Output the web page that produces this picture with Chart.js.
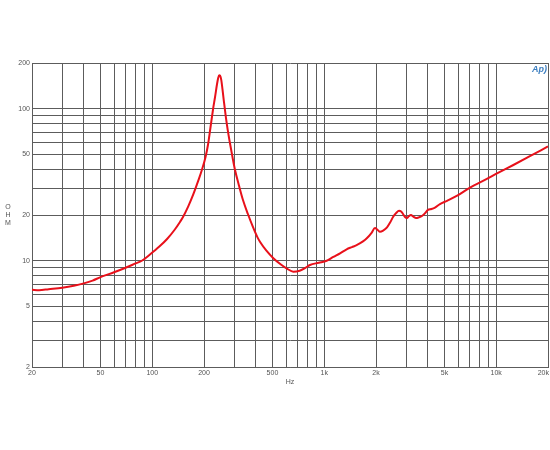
<!DOCTYPE html>
<html>
<head>
<meta charset="utf-8">
<script src="https://cdn.jsdelivr.net/npm/chart.js@4.4.1/dist/chart.umd.min.js"></script>
<style>
  html, body { margin: 0; padding: 0; background: #fff; }
  #wrap { width: 550px; height: 450px; }
</style>
</head>
<body>
<div id="wrap"><canvas id="chart" width="550" height="450"></canvas></div>
<script>
// Impedance curve (Hz, ohm)
const freqHz = [20, 22, 25, 30, 35, 40, 45, 50, 60, 70, 80, 87, 97, 110, 122, 135, 145, 151, 162, 173, 185, 195,
  204, 211, 218, 226, 232, 238, 242, 245, 248, 252, 256, 261, 268, 275, 283, 293, 303, 320, 337, 360, 385, 410,
  424, 460, 506, 560, 610, 661, 720, 780, 826, 930, 1033, 1130, 1236, 1350, 1450, 1552, 1680, 1774, 1880, 1973,
  2040, 2110, 2200, 2318, 2420, 2512, 2620, 2722, 2800, 2873, 2950, 3027, 3100, 3194, 3300, 3419, 3550, 3700,
  3850, 4010, 4200, 4405, 4710, 5175, 6000, 7040, 8600, 10240, 12500, 15300, 20000]
const impedanceOhm = [6.45, 6.4, 6.5, 6.65, 6.85, 7.1, 7.4, 7.8, 8.4, 9.0, 9.6, 10.0, 11.0, 12.4, 13.9, 16.0, 18.0,
  19.4, 22.8, 27.2, 33.5, 40, 48, 58, 75, 100, 120, 145, 160, 166, 165, 155, 135, 112, 88, 72, 59.5, 48, 39.5, 31,
  25.1, 20.3, 16.7, 14.2, 13.3, 11.7, 10.4, 9.45, 8.85, 8.47, 8.6, 9.0, 9.38, 9.7, 10.0, 10.6, 11.2, 11.9, 12.3,
  12.7, 13.4, 14.1, 15.2, 16.4, 16.0, 15.5, 15.8, 16.6, 17.9, 19.4, 20.6, 21.3, 21.1, 20.3, 19.4, 19.1, 19.6, 20.0,
  19.5, 19.1, 19.3, 19.7, 20.5, 21.6, 21.9, 22.4, 23.6, 24.8, 27, 30.3, 34, 37.8, 42.5, 48, 56.5]

// grid positions and labels
const xGrid = [20, 30, 40, 50, 60, 70, 80, 90, 100, 200, 300, 400, 500, 600, 700, 800, 900,
  1000, 2000, 3000, 4000, 5000, 6000, 7000, 8000, 9000, 10000, 20000]
const xLabels = [20, 50, 100, 200, 500, 1000, 2000, 5000, 10000, 20000]
const yGrid = [2, 3, 4, 5, 6, 7, 8, 9, 10, 20, 30, 40, 50, 60, 70, 80, 90, 100, 200]
const yLabels = [2, 5, 10, 20, 50, 100, 200]

const gridColor = "#5c5c5c"
const labelFont = '7px "Liberation Sans", Arial, sans-serif'

function fmtHz(v) {
  return v >= 1000 ? v / 1000 + "k" : String(v)
}

// extra text: x labels, axis names, logo
const decorPlugin = {
  id: "decor",
  afterDraw(chart) {
    const ctx = chart.ctx
    const xs = chart.scales.x
    const area = chart.chartArea
    ctx.save()
    ctx.fillStyle = "#555"
    ctx.font = labelFont
    ctx.textAlign = "center"
    ctx.textBaseline = "top"
    xLabels.forEach((v) => {
      const txt = fmtHz(v)
      const half = ctx.measureText(txt).width / 2
      const px = Math.min(xs.getPixelForValue(v), chart.width - half - 1)
      ctx.fillText(txt, px, area.bottom + 3)
    })
    ctx.fillText("Hz", 290, 379)
    ctx.textBaseline = "middle"
    ctx.fillText("O", 8, 207)
    ctx.fillText("H", 8, 215)
    ctx.fillText("M", 8, 223)
    // Ap logo
    ctx.fillStyle = "#3d7fc0"
    ctx.font = 'italic bold 9px "Liberation Sans", Arial, sans-serif'
    ctx.textAlign = "right"
    ctx.fillText("Ap)", 547, 70)
    ctx.restore()
  },
}

new Chart(document.getElementById("chart"), {
  type: "line",
  data: {
    datasets: [
      {
        data: freqHz.map((f, i) => ({ x: f, y: impedanceOhm[i] })),
        borderColor: "#e8101a",
        borderWidth: 2,
        pointRadius: 0,
        cubicInterpolationMode: "monotone",
        fill: false,
      },
    ],
  },
  options: {
    responsive: false,
    animation: false,
    layout: { padding: { top: 63, right: 2, bottom: 63, left: 0 } },
    plugins: { legend: { display: false }, tooltip: { enabled: false } },
    scales: {
      x: {
        type: "logarithmic",
        min: 20,
        max: 20000,
        afterBuildTicks: (scale) => {
          scale.ticks = xGrid.map((v) => ({ value: v }))
        },
        afterFit: (scale) => {
          scale.height = 20
        },
        ticks: { display: false },
        grid: { color: gridColor, lineWidth: 1, drawTicks: false },
        border: { color: gridColor },
      },
      y: {
        type: "logarithmic",
        min: 2,
        max: 200,
        afterBuildTicks: (scale) => {
          scale.ticks = yGrid.map((v) => ({ value: v }))
        },
        afterFit: (scale) => {
          scale.width = 32
        },
        ticks: {
          autoSkip: false,
          padding: 2,
          color: "#555",
          font: { family: '"Liberation Sans", Arial, sans-serif', size: 7 },
          callback: (v) => (yLabels.includes(v) ? String(v) : ""),
        },
        grid: { color: gridColor, lineWidth: 1, drawTicks: false },
        border: { color: gridColor },
      },
    },
  },
  plugins: [decorPlugin],
})
</script>
</body>
</html>
